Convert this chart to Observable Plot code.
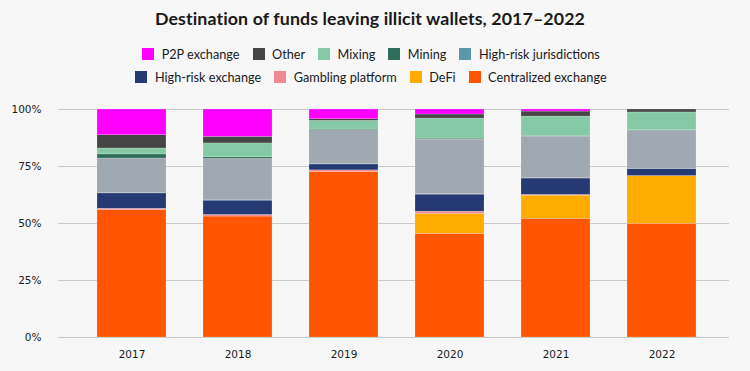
<!DOCTYPE html>
<html>
<head>
<meta charset="utf-8">
<script src="https://cdn.jsdelivr.net/npm/d3@7"></script>
<script src="https://cdn.jsdelivr.net/npm/@observablehq/plot@0.6"></script>
<style>
  html, body { margin: 0; padding: 0; background: #f7f7f7; }
  #wrap { width: 750px; height: 371px; background: #f7f7f7; font-family: Lato, "Noto Sans", sans-serif; color: #1a1a1a; }
  #head { height: 90px; position: relative; }
  #title { position: absolute; top: 7px; left: 0; width: 740px; text-align: center; font-weight: 700; font-size: 17.8px; letter-spacing: 0.1px; }
  .row { position: absolute; left: 0; width: 742px; display: flex; justify-content: center; font-size: 12.7px; }
  .item { display: flex; align-items: center; margin: 0 6.5px; }
  .sw { width: 12px; height: 12px; margin-right: 7.5px; }
</style>
</head>
<body>
<div id="wrap">
  <div id="head">
    <div id="title">Destination of funds leaving illicit wallets, 2017–2022</div>
    <div class="row" id="row1" style="top:46px"></div>
    <div class="row" id="row2" style="top:69px"></div>
  </div>
  <div id="chart"></div>
</div>
<script>
const years = ["2017", "2018", "2019", "2020", "2021", "2022"];
// stack order, bottom to top
const categories = ["Centralized exchange", "DeFi", "Gambling platform", "High-risk exchange",
  "High-risk jurisdictions", "Illicit", "Mining", "Mixing", "Other", "P2P exchange"];
const colors = ["#ff5500", "#ffab00", "#f08a92", "#253a73",
  "#5b97a9", "#a0a8b1", "#2f6e5c", "#86c9a7", "#464646", "#ff00ff"];
const legendRow1 = ["P2P exchange", "Other", "Mixing", "Mining", "High-risk jurisdictions"];
const legendRow2 = ["High-risk exchange", "Gambling platform", "DeFi", "Centralized exchange"];

const centralized = [55.8, 53.1, 72.6, 45.5, 52.1, 49.9];
const defi = [0, 0, 0, 8.8, 10.2, 20.9];
const gambling = [0.7, 0.7, 0.7, 1.0, 0.3, 0.1];
const highRiskExchange = [6.7, 6.3, 2.6, 7.5, 7.2, 3.1];
const highRiskJurisdictions = [0.1, 0.1, 0.1, 0.2, 0.1, 0.1];
const illicit = [15.2, 18.2, 14.9, 24.0, 18.3, 16.6];
const mining = [1.8, 0.7, 0.3, 0.4, 0.3, 0.3];
const mixing = [2.6, 6.1, 3.8, 8.8, 8.5, 7.8];
const other = [5.8, 2.9, 0.7, 1.8, 2.2, 1.3];
const p2p = [11.3, 12.0, 4.3, 2.2, 0.9, 0.0];

const seriesValues = [centralized, defi, gambling, highRiskExchange, highRiskJurisdictions,
  illicit, mining, mixing, other, p2p];

const yTicks = [0, 0.25, 0.5, 0.75, 1];

const data = [];
categories.forEach((c, i) => years.forEach((y, j) => data.push({year: y, category: c, value: seriesValues[i][j]})));

const colorOf = Object.fromEntries(categories.map((c, i) => [c, colors[i]]));
function fillRow(id, items) {
  const row = document.getElementById(id);
  items.forEach(name => {
    const it = document.createElement("div");
    it.className = "item";
    it.innerHTML = `<div class="sw" style="background:${colorOf[name]}"></div><span>${name}</span>`;
    row.appendChild(it);
  });
}
fillRow("row1", legendRow1);
fillRow("row2", legendRow2);

const chart = Plot.plot({
  width: 750,
  height: 281,
  marginLeft: 58,
  marginRight: 21,
  marginTop: 19,
  marginBottom: 34,
  style: {background: "transparent", fontFamily: "'DejaVu Sans', sans-serif", fontSize: "10.5px", color: "#1a1a1a"},
  x: {domain: years, paddingInner: 0.351, paddingOuter: 0.3315, align: 0.54, label: null, tickSize: 0, tickPadding: 13},
  y: {domain: [0, 1], ticks: yTicks, tickFormat: d3.format(".0%"), label: null, tickSize: 0, tickPadding: 17},
  color: {domain: categories, range: colors},
  marks: [
    Plot.gridY(yTicks, {stroke: "#c9c9c9", strokeOpacity: 1, strokeWidth: 1}),
    Plot.barY(data, Plot.stackY({
      x: "year", y: "value", fill: "category", order: categories, offset: "normalize",
      stroke: "#f7f7f7", strokeWidth: 0.4, strokeOpacity: 0.5
    })),
    Plot.axisX({tickSize: 0, tickPadding: 13}),
    Plot.axisY(yTicks, {tickSize: 0, tickPadding: 17, tickFormat: d3.format(".0%")})
  ]
});
document.getElementById("chart").appendChild(chart);
</script>
</body>
</html>
